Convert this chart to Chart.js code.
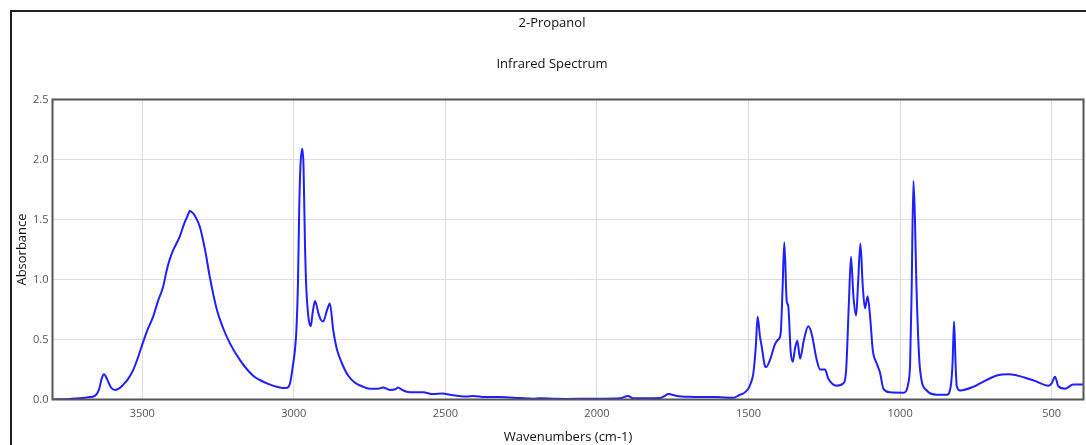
<!DOCTYPE html>
<html>
<head>
<meta charset="utf-8">
<script src="https://cdn.jsdelivr.net/npm/chart.js@4.4.1/dist/chart.umd.min.js"></script>
<style>
  html, body { margin: 0; padding: 0; background: #fff; overflow: hidden; }
  #frame { position: absolute; left: 10px; top: 10px; width: 1100px; height: 470px; border: 2px solid #222; background: #fff; }
  #c { position: absolute; left: 0; top: 0; }
</style>
</head>
<body>
<div id="frame"><canvas id="c" width="1080" height="445"></canvas></div>
<script>
const chartTitle = '2-Propanol';
const chartSubtitle = 'Infrared Spectrum';
const xAxisTitle = 'Wavenumbers (cm-1)';
const yAxisTitle = 'Absorbance';
const xTickValues = [3500, 3000, 2500, 2000, 1500, 1000, 500];
const yTickValues = [0.0, 0.5, 1.0, 1.5, 2.0, 2.5];

const wavenumbers = [
  3795, 3738, 3705, 3672, 3656, 3643, 3633, 3626, 3616, 3603, 3590, 3577, 3564, 3547, 3530, 3514,
  3497, 3481, 3464, 3448, 3431, 3419, 3409, 3398, 3385, 3376, 3361, 3352, 3343, 3336, 3326, 3310,
  3293, 3277, 3255, 3234, 3211, 3178, 3135, 3089, 3046, 3026, 3013, 3002, 2996, 2991, 2986, 2982,
  2978, 2972, 2968, 2963, 2960, 2952, 2944, 2938, 2930, 2919, 2912, 2903, 2891, 2881, 2870, 2858,
  2841, 2821, 2798, 2775, 2749, 2722, 2706, 2683, 2666, 2656, 2643, 2628, 2600, 2574, 2541, 2508,
  2485, 2430, 2409, 2369, 2320, 2254, 2211, 2188, 2138, 2100, 2040, 1990, 1924, 1897, 1881, 1842,
  1792, 1776, 1765, 1737, 1693, 1660, 1605, 1550, 1528, 1517, 1501, 1495, 1484, 1476, 1470, 1462,
  1457, 1446, 1442, 1429, 1413, 1402, 1394, 1388, 1382, 1374, 1369, 1361, 1354, 1347, 1339, 1330,
  1317, 1303, 1292, 1275, 1264, 1248, 1237, 1209, 1187, 1178, 1169, 1162, 1154, 1145, 1139, 1131,
  1123, 1116, 1107, 1099, 1090, 1077, 1066, 1055, 1033, 989, 973, 967, 962, 956, 951, 946,
  934, 912, 879, 846, 833, 827, 822, 817, 813, 802, 759, 736, 681, 643, 561, 511,
  500, 489, 478, 456, 429, 395
];
const absorbance = [
  0.0, 0.005, 0.01, 0.02, 0.03, 0.08, 0.18, 0.21, 0.17, 0.10, 0.08, 0.09, 0.12, 0.17, 0.245, 0.35,
  0.48, 0.59, 0.69, 0.82, 0.94, 1.08, 1.17, 1.245, 1.31, 1.36, 1.47, 1.52, 1.57, 1.56, 1.53, 1.44,
  1.25, 1.02, 0.76, 0.60, 0.47, 0.33, 0.20, 0.135, 0.10, 0.095, 0.13, 0.30, 0.42, 0.60, 1.0, 1.61,
  1.95, 2.09, 1.95, 1.27, 1.0, 0.69, 0.61, 0.72, 0.82, 0.72, 0.67, 0.65, 0.74, 0.80, 0.58, 0.42,
  0.30, 0.20, 0.14, 0.11, 0.09, 0.09, 0.10, 0.08, 0.085, 0.10, 0.08, 0.065, 0.06, 0.06, 0.045, 0.05,
  0.04, 0.025, 0.03, 0.02, 0.02, 0.012, 0.007, 0.01, 0.006, 0.005, 0.006, 0.007, 0.01, 0.03, 0.01, 0.01,
  0.012, 0.03, 0.045, 0.03, 0.022, 0.02, 0.02, 0.015, 0.04, 0.05, 0.09, 0.12, 0.22, 0.44, 0.69, 0.52,
  0.45, 0.28, 0.27, 0.33, 0.46, 0.50, 0.55, 0.9, 1.31, 0.82, 0.78, 0.40, 0.315, 0.42, 0.49, 0.34,
  0.50, 0.61, 0.55, 0.33, 0.25, 0.25, 0.175, 0.115, 0.135, 0.245, 0.8, 1.19, 0.86, 0.70, 0.95, 1.30,
  0.94, 0.76, 0.86, 0.69, 0.41, 0.30, 0.22, 0.09, 0.06, 0.057, 0.135, 0.3, 0.9, 1.82, 1.5, 0.94,
  0.245, 0.075, 0.04, 0.04, 0.11, 0.3, 0.65, 0.3, 0.11, 0.075, 0.105, 0.135, 0.20, 0.21, 0.16, 0.115,
  0.135, 0.19, 0.11, 0.09, 0.125, 0.125
];

const points = wavenumbers.map((w, i) => ({ x: w, y: absorbance[i] }));

const frameBox = {
  id: 'frameBox',
  afterDatasetsDraw(chart) {
    const a = chart.chartArea;
    const ctx = chart.ctx;
    ctx.save();
    ctx.strokeStyle = '#555';
    ctx.lineWidth = 2;
    ctx.strokeRect(a.left, a.top, a.right - a.left, a.bottom - a.top);
    ctx.restore();
  }
};

new Chart(document.getElementById('c'), {
  type: 'line',
  data: {
    datasets: [{
      data: points,
      borderColor: '#1f1fff',
      borderWidth: 2,
      pointRadius: 0,
      fill: false,
      cubicInterpolationMode: 'monotone'
    }]
  },
  options: {
    responsive: false,
    animation: false,
    devicePixelRatio: 1,
    layout: { padding: { left: 0, right: 0, top: 0, bottom: 0 } },
    plugins: {
      legend: { display: false },
      tooltip: { enabled: false },
      title: {
        display: true, text: chartTitle, color: '#111',
        font: { family: 'Open Sans', size: 13, weight: 'normal' },
        padding: { top: 3, bottom: 0 }
      },
      subtitle: {
        display: true, text: chartSubtitle, color: '#111',
        font: { family: 'Open Sans', size: 13, weight: 'normal' },
        padding: { top: 25.6, bottom: 27.7 }
      }
    },
    scales: {
      x: {
        type: 'linear', reverse: true, min: 395, max: 3796,
        afterBuildTicks: s => { s.ticks = xTickValues.map(v => ({ value: v })); },
        afterFit: s => { s.height = 57.5; },
        grid: { color: '#dedede', drawTicks: false },
        border: { display: false },
        ticks: { color: '#555', padding: 8, font: { family: 'Open Sans', size: 11 }, callback: v => String(v) },
        title: { display: true, text: xAxisTitle, color: '#111', font: { family: 'Open Sans', size: 13 }, padding: { top: 0, bottom: 12.2 } }
      },
      y: {
        min: 0, max: 2.5,
        afterBuildTicks: s => { s.ticks = yTickValues.map(v => ({ value: v })); },
        afterFit: s => { s.width = 40.5; },
        grid: { color: '#dedede', drawTicks: false },
        border: { display: false },
        ticks: { color: '#555', padding: 4, font: { family: 'Open Sans', size: 11 }, callback: v => Number(v).toFixed(1) },
        title: { display: true, text: yAxisTitle, color: '#111', font: { family: 'Open Sans', size: 13 }, padding: { top: 2.2, bottom: 0 } }
      },
      yRightSpacer: {
        position: 'right', min: 0, max: 2.5,
        afterFit: s => { s.width = 8.5; },
        grid: { display: false },
        border: { display: false },
        ticks: { display: false },
        title: { display: false }
      }
    }
  },
  plugins: [frameBox]
});
</script>
</body>
</html>
